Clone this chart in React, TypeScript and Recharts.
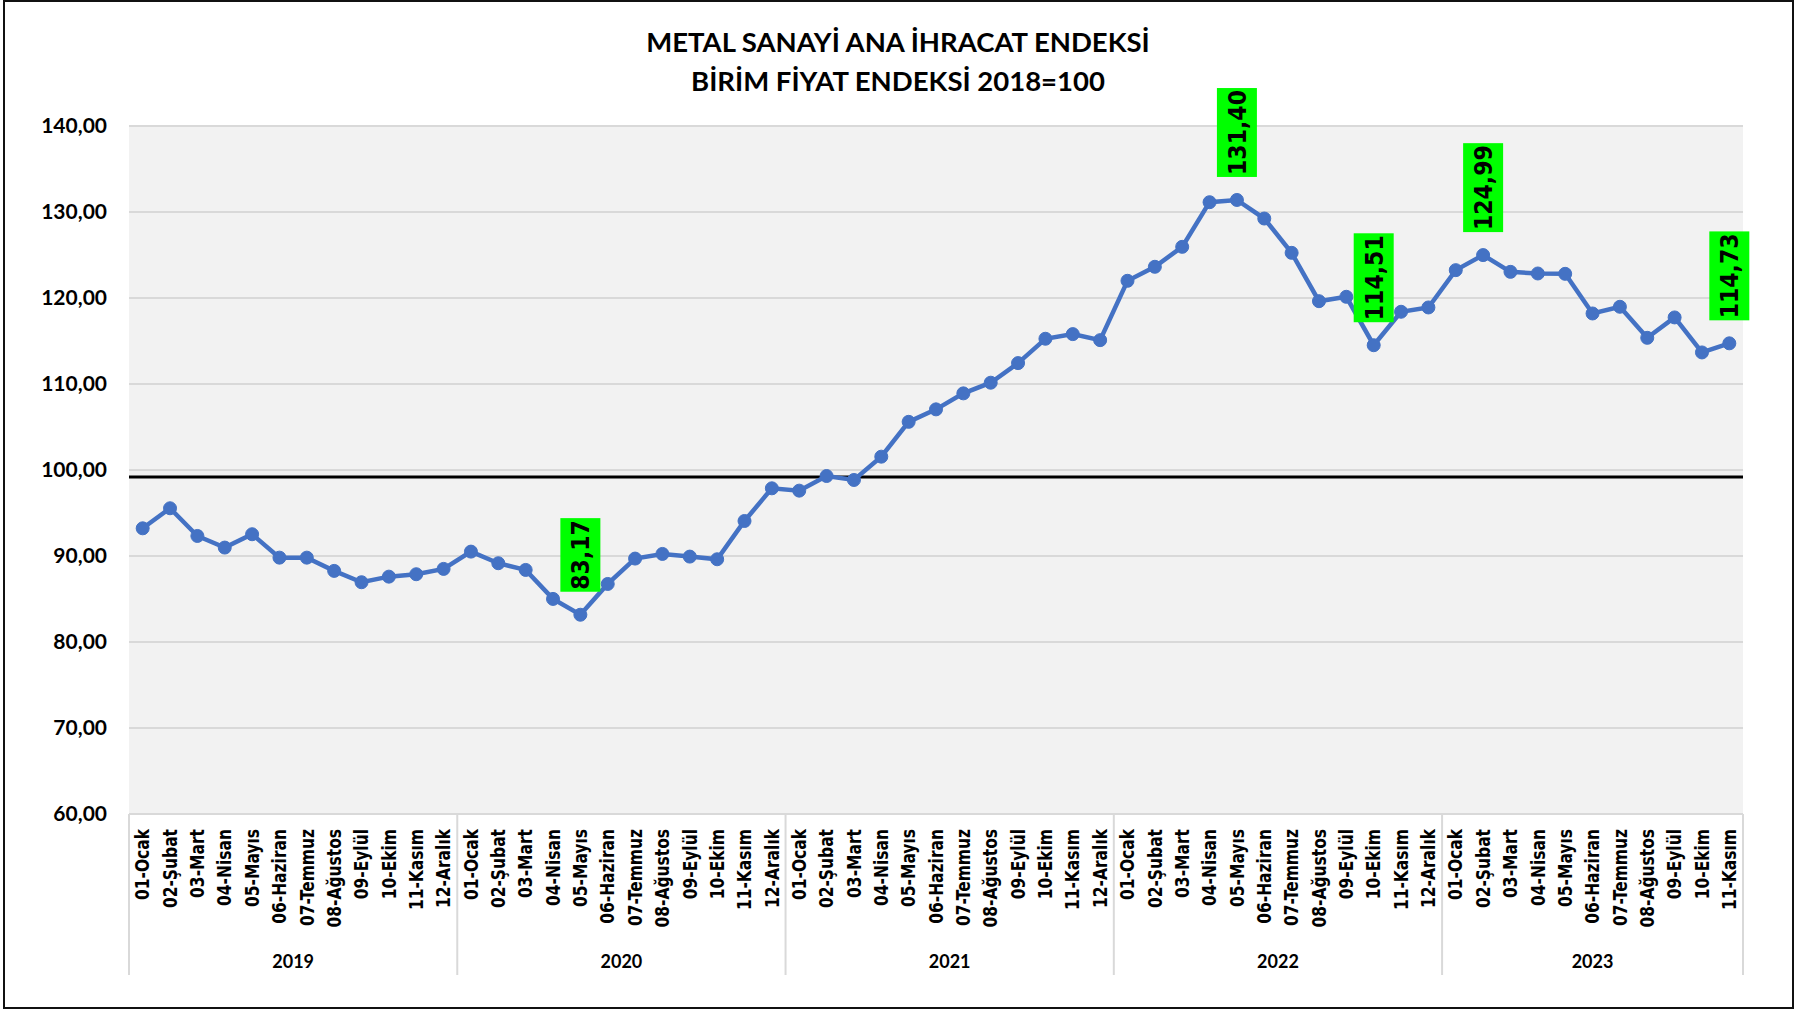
import React from 'react';
import { LineChart, Line, XAxis, YAxis, CartesianGrid, ReferenceLine, LabelList } from 'recharts';

const years = [2019, 2020, 2021, 2022, 2023];
const monthNames = ['01-Ocak', '02-Şubat', '03-Mart', '04-Nisan', '05-Mayıs', '06-Haziran', '07-Temmuz', '08-Ağustos', '09-Eylül', '10-Ekim', '11-Kasım', '12-Aralık'];
const values2019 = [93.22, 95.55, 92.33, 90.98, 92.53, 89.81, 89.81, 88.27, 86.95, 87.6, 87.88, 88.5];
const values2020 = [90.51, 89.16, 88.38, 85.01, 83.17, 86.75, 89.7, 90.24, 89.93, 89.62, 94.07, 97.87];
const values2021 = [97.6, 99.3, 98.84, 101.55, 105.6, 107.05, 108.91, 110.15, 112.43, 115.26, 115.8, 115.1];
const values2022 = [122.0, 123.63, 125.95, 131.14, 131.4, 129.24, 125.25, 119.63, 120.14, 114.51, 118.4, 118.9];
const values2023 = [123.24, 124.99, 123.04, 122.85, 122.81, 118.2, 118.98, 115.37, 117.74, 113.67, 114.73];
const labeledPoints = ['2020-05', '2022-05', '2022-10', '2023-02', '2023-11'];
const yTicks = [60, 70, 80, 90, 100, 110, 120, 130, 140];
const referenceValue = 99.2;
const titleLines = ['METAL SANAYİ ANA İHRACAT ENDEKSİ', 'BİRİM FİYAT ENDEKSİ 2018=100'];

const yearValues = [values2019, values2020, values2021, values2022, values2023];

type Row = { key: string; month: string; year: number; mi: number; count: number; value: number };
const data: Row[] = [];
years.forEach((yr, yi) => {
  const vals = yearValues[yi];
  vals.forEach((v, i) => {
    data.push({
      key: `${yr}-${String(i + 1).padStart(2, '0')}`,
      month: monthNames[i],
      year: yr,
      mi: i,
      count: vals.length,
      value: v,
    });
  });
});

const W = 1796;
const H = 1009;
const MARGIN = { top: 126, right: 53, bottom: 0, left: 0 };
const Y_AXIS_W = 129;
const PLOT_W = W - MARGIN.left - MARGIN.right - Y_AXIS_W;
const BW = PLOT_W / data.length;

const fmt = (v: number) => v.toFixed(2).replace('.', ',');

const GRID = '#D9D9D9';

const MonthTick = (props: any) => {
  const { x, y, payload } = props;
  const idx = payload.index;
  const d = data[idx];
  if (!d) return null;
  const left = x - BW / 2;
  const elems: any[] = [];
  elems.push(
    <text
      key="m"
      x={0}
      y={0}
      transform={`translate(${x}, ${y + 15}) rotate(-90) scale(1, 1.2)`}
      textAnchor="end"
      dy="0.36em"
      fontFamily="DejaVu Sans"
      fontWeight={700}
      fontSize={15.5}
      fill="#000"
    >
      {d.month}
    </text>
  );
  if (d.mi === 0) {
    elems.push(<line key="sl" x1={left} x2={left} y1={y} y2={y + 161} stroke={GRID} strokeWidth={2} />);
    elems.push(
      <text
        key="yr"
        x={left + (d.count * BW) / 2}
        y={y + 148}
        textAnchor="middle"
        dy="0.36em"
        fontFamily="Lato"
        fontWeight={700}
        fontSize={18}
        fill="#000"
      >
        {d.year}
      </text>
    );
  }
  if (idx === data.length - 1) {
    const right = x + BW / 2;
    elems.push(<line key="sr" x1={right} x2={right} y1={y} y2={y + 161} stroke={GRID} strokeWidth={2} />);
  }
  return <g>{elems}</g>;
};

const PointLabel = (props: any) => {
  const { x, y, index, value } = props;
  const d = data[index];
  if (!d || !labeledPoints.includes(d.key)) return null;
  const txt = fmt(Number(value));
  const fs = 22;
  let em = 0;
  for (const ch of txt) em += ch === ',' ? 0.38 : 0.696;
  const tw = em * fs;
  const bh = tw + 4;
  const bwid = 40;
  const bottom = y - 23;
  const top = bottom - bh;
  const cx = x;
  const cy = (top + bottom) / 2;
  return (
    <g>
      <rect x={cx - bwid / 2} y={top} width={bwid} height={bh} fill="#00FF00" />
      <text
        x={0}
        y={0}
        transform={`translate(${cx}, ${cy}) rotate(-90) scale(1, 1.13)`}
        textAnchor="middle"
        dy="0.36em"
        fontFamily="DejaVu Sans"
        fontWeight={700}
        fontSize={fs}
        fill="#000"
      >
        {txt}
      </text>
    </g>
  );
};

export default function App() {
  return (
    <div style={{ position: 'absolute', left: 0, top: 0, width: W, height: H, background: '#fff', overflow: 'hidden' }}>
      <div
        style={{
          position: 'absolute',
          left: 0,
          top: 22,
          width: W,
          textAlign: 'center',
          fontFamily: 'Lato',
          fontWeight: 700,
          fontSize: 27.5,
          lineHeight: '39px',
          color: '#000',
          zIndex: 2,
        }}
      >
        {titleLines.map((t) => (
          <div key={t}>{t}</div>
        ))}
      </div>
      <div style={{ position: 'absolute', left: 0, top: 0 }}>
        <LineChart width={W} height={H} data={data} margin={MARGIN}>
          <CartesianGrid horizontal vertical={false} stroke={GRID} strokeWidth={2} fill="#F2F2F2" />
          <XAxis
            dataKey="key"
            scale="band"
            interval={0}
            height={H - MARGIN.top - 688}
            axisLine={{ stroke: GRID, strokeWidth: 2 }}
            tickLine={false}
            tickSize={0}
            tickMargin={0}
            tick={<MonthTick />}
          />
          <YAxis
            domain={[60, 140]}
            ticks={yTicks}
            width={Y_AXIS_W}
            axisLine={false}
            tickLine={false}
            tickSize={0}
            tickMargin={22}
            tickFormatter={fmt}
            tick={{ fontFamily: 'Lato', fontWeight: 700, fontSize: 21, fill: '#000' }}
          />
          <ReferenceLine y={referenceValue} stroke="#000" strokeWidth={3} />
          <Line
            type="linear"
            dataKey="value"
            stroke="#4472C4"
            strokeWidth={4.5}
            dot={{ r: 6.5, fill: '#4472C4', stroke: '#4472C4', strokeWidth: 1 }}
            activeDot={false}
            isAnimationActive={false}
          >
            <LabelList dataKey="value" content={<PointLabel />} />
          </Line>
        </LineChart>
      </div>
      <div
        style={{
          position: 'absolute',
          left: 3,
          top: 0,
          width: 1791,
          height: H,
          border: '2px solid #111',
          boxSizing: 'border-box',
          pointerEvents: 'none',
        }}
      />
    </div>
  );
}
